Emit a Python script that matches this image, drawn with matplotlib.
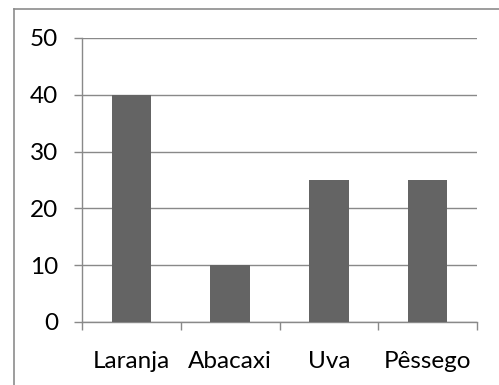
import matplotlib
matplotlib.use("Agg")
import matplotlib.pyplot as plt
from matplotlib.lines import Line2D

categories = ["Laranja", "Abacaxi", "Uva", "Pêssego"]
values = [40, 10, 25, 25]
yticks = [0, 10, 20, 30, 40, 50]

plt.rcParams['font.family'] = ['Lato', 'DejaVu Sans']

W, H = 499, 385
fig = plt.figure(figsize=(W / 100, H / 100), dpi=100)
ax = fig.add_axes([82 / W, 1 - 322 / H, (477 - 82) / W, (322 - 38) / H])

grid_c = "#898989"
ax.bar(range(len(categories)), values, width=0.4, color="#646464", zorder=3)
ax.set_xlim(-0.5, len(categories) - 0.5)
ax.set_ylim(0, 50)
ax.set_yticks(yticks)
ax.set_yticklabels([str(v) for v in yticks])
ax.yaxis.grid(True, color=grid_c, linewidth=1.0, zorder=0)
ax.set_axisbelow(True)

ax.set_xticks(range(len(categories)))
ax.set_xticklabels(categories)
ax.set_xticks([i - 0.5 for i in range(len(categories) + 1)], minor=True)
ax.tick_params(axis="x", which="major", length=0, pad=21, labelsize=17.5, colors="black")
ax.tick_params(axis="x", which="minor", length=6, width=1.0, color=grid_c)
ax.tick_params(axis="y", length=6, width=1.0, color=grid_c, pad=11, labelsize=17.5)

for s in ["top", "right"]:
    ax.spines[s].set_visible(False)
for s in ["left", "bottom"]:
    ax.spines[s].set_color(grid_c)
    ax.spines[s].set_linewidth(1.0)

# outer chart border (top and left visible)
bx = 13.5 / W
by = 1 - 8.5 / H
fig.add_artist(Line2D([bx, bx], [0, by], transform=fig.transFigure, color="#8c8c8c", linewidth=1.2))
fig.add_artist(Line2D([bx, 1], [by, by], transform=fig.transFigure, color="#8c8c8c", linewidth=1.2))

fig.savefig("out.png", dpi=100)
